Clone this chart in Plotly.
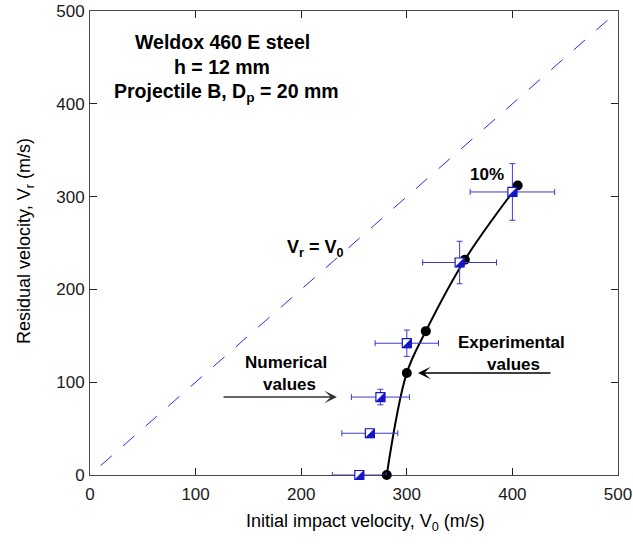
import plotly.graph_objects as go

# Experimental residual velocities (black dots, fitted curve)
exp_v0 = [281, 300, 318, 355, 405]
exp_vr = [0, 110, 155, 232, 312]

# Numerical residual velocities (half-filled squares, +/-10 % bars)
num_v0 = [255, 265, 275, 300, 350, 400]
num_vr = [0, 45, 84, 142, 229, 305]
err_pct = 10

# Reference line V_r = V_0
diag_v = [10, 490]

tick_vals = [0, 100, 200, 300, 400, 500]
tick_text = ["0", "100", "200", "300", "400", "500"]

W, H = 633, 544
L, R, T, B = 90, 15, 11, 69
PAD = 14                      # extra room below the frame for markers sitting on V_r = 0
plot_w = W - L - R
plot_h = H - T - (B - PAD)
frame_h = plot_h - PAD
kx = plot_w / 500.0           # px per unit, x
ky = frame_h / 500.0          # px per unit, y

FONT = "Liberation Sans, Arial, sans-serif"
BLUE = "#1414c8"
EBLUE = "#3a3ad2"
DBLUE = "#2a2ae6"


def paper(px, py):
    """Page pixel position -> paper coordinates."""
    return (px - L) / plot_w, (H - (B - PAD) - py) / plot_h


fig = go.Figure()

# V_r = V_0 dashed line
fig.add_trace(go.Scatter(
    x=diag_v, y=diag_v, mode="lines",
    line=dict(color=DBLUE, width=1, dash="15px,15px"),
    hoverinfo="skip",
))

# Experimental curve and points
fig.add_trace(go.Scatter(
    x=exp_v0, y=exp_vr, mode="lines+markers",
    line=dict(color="black", width=2, shape="spline", smoothing=1.0),
    marker=dict(color="black", size=10, symbol="circle"),
    cliponaxis=False,
))

# Numerical points: white square with blue edge and error bars
fig.add_trace(go.Scatter(
    x=num_v0, y=num_vr, mode="markers",
    marker=dict(symbol="square", size=9, color="white",
                line=dict(color=BLUE, width=1.2)),
    error_x=dict(type="percent", value=err_pct, color=EBLUE, thickness=1, width=3),
    error_y=dict(type="percent", value=err_pct, color=EBLUE, thickness=1, width=3),
    cliponaxis=False,
))

# Lower-right filled half of each numerical marker (drawn on a helper
# subplot that shares the x scale and extends a little below the frame)
half_x = 4.5 / kx
half_y = 4.5 / ky
tx, ty = [], []
for v0, vr in zip(num_v0, num_vr):
    tx += [v0 - half_x, v0 + half_x, v0 + half_x, v0 - half_x, None]
    ty += [vr - half_y, vr - half_y, vr + half_y, vr - half_y, None]
fig.add_trace(go.Scatter(
    x=tx, y=ty, mode="lines", fill="toself", fillcolor=BLUE,
    line=dict(color=BLUE, width=0.5), xaxis="x2", yaxis="y2",
    hoverinfo="skip",
))

axis_common = dict(
    range=[0, 500], showgrid=False, zeroline=False, automargin=False,
    showline=True, linecolor="#4a4a4a", linewidth=1, mirror="ticks",
    ticks="inside", ticklen=7, tickwidth=1, tickcolor="#222222",
    tickvals=tick_vals, ticktext=tick_text,
    tickfont=dict(family=FONT, size=17, color="#1a1a1a"),
    layer="below traces", fixedrange=True,
)

fig.update_layout(
    width=W, height=H,
    margin=dict(l=L, r=R, t=T, b=B - PAD, pad=0, autoexpand=False),
    paper_bgcolor="white", plot_bgcolor="rgba(0,0,0,0)",
    showlegend=False,
    xaxis=dict(domain=[0, 1], anchor="y", ticklabelstandoff=4, **axis_common),
    yaxis=dict(domain=[PAD / plot_h, 1], anchor="x", ticklabelstandoff=1,
               **axis_common),
    xaxis2=dict(domain=[0, 1], range=[0, 500], anchor="y2", visible=False,
                fixedrange=True, automargin=False),
    yaxis2=dict(domain=[0, 1], range=[-PAD / ky, 500], anchor="x2",
                visible=False, fixedrange=True, automargin=False),
)

ann = []


def label(text, px, py, size, bold=False, angle=0, color="black"):
    x, y = paper(px, py)
    ann.append(dict(
        x=x, y=y, xref="paper", yref="paper", showarrow=False,
        text=f"<b>{text}</b>" if bold else text, textangle=angle,
        font=dict(family=FONT, size=size, color=color),
        xanchor="center", yanchor="middle",
    ))


def arrow(tip_px, tip_py, tail_px, color):
    x, y = paper(tip_px, tip_py)
    ann.append(dict(
        x=x, y=y, xref="paper", yref="paper", text="", showarrow=True,
        ax=tail_px - tip_px, ay=0, axref="pixel", ayref="pixel",
        arrowhead=3, arrowsize=1.4, arrowwidth=1.5, arrowcolor=color,
        standoff=0,
    ))


label("Weldox 460 E steel", 222, 42, 19.5, bold=True)
label("h = 12 mm", 222, 67, 19.5, bold=True)
label("Projectile B, D<sub>p</sub> = 20 mm", 226, 93, 19.5, bold=True)
label("V<sub>r</sub> = V<sub>0</sub>", 315, 248, 18, bold=True)
label("10%", 487, 174, 17, bold=True)
label("Numerical", 286, 363, 17, bold=True)
label("values", 289, 384, 17, bold=True)
label("Experimental", 511, 342, 17, bold=True)
label("values", 513, 364, 17, bold=True)
arrow(337, 397, 222, "#333333")
arrow(418, 373, 552, "black")

label("Initial impact velocity, V<sub>0</sub> (m/s)", 365, 522, 18)
label("Residual velocity, V<sub>r</sub> (m/s)", 25, 241, 18, angle=-90)

fig.update_layout(annotations=ann)

fig.write_html("out.html")
